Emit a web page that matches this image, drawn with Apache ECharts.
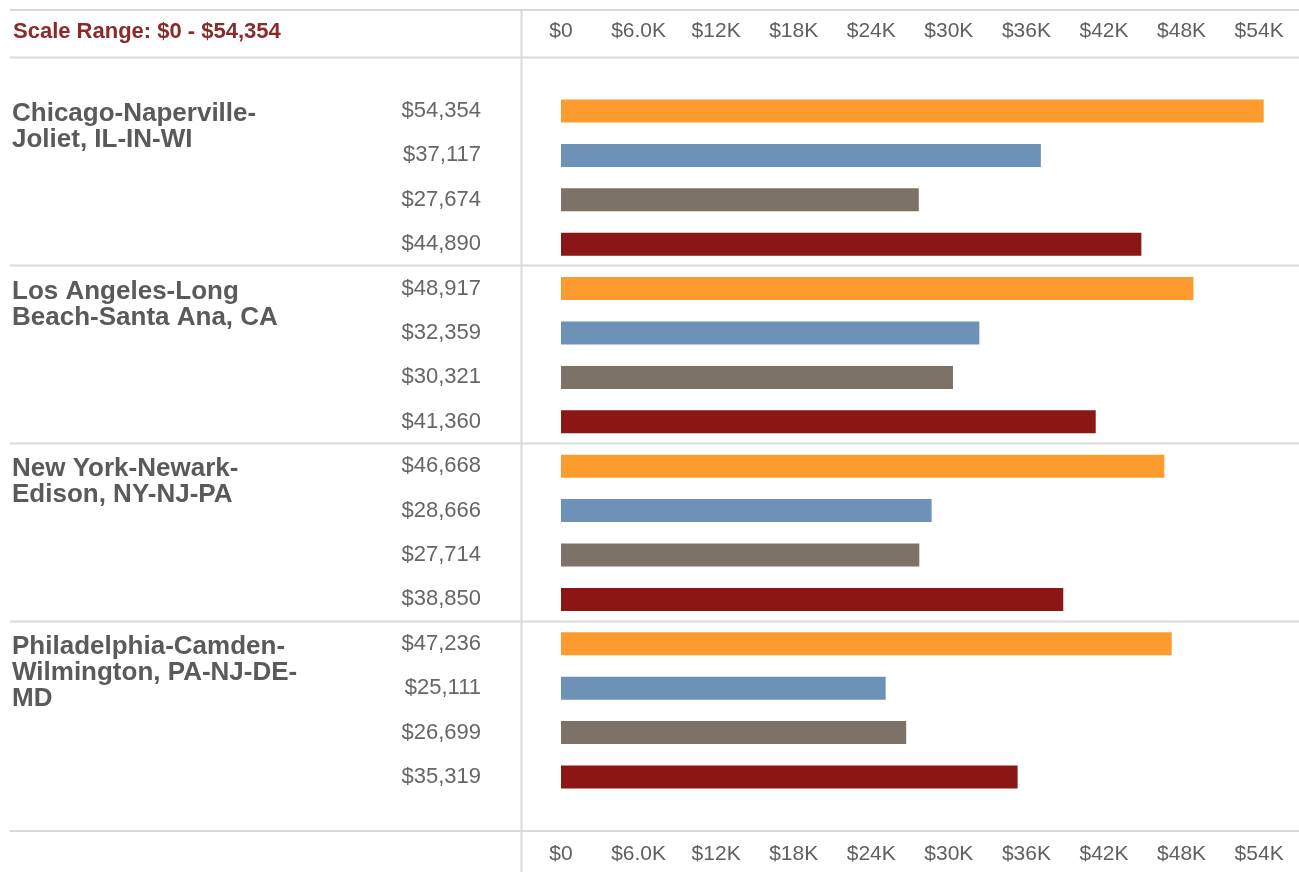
<!DOCTYPE html>
<html><head><meta charset="utf-8">
<script src="https://cdn.jsdelivr.net/npm/echarts@6/dist/echarts.min.js"></script>
<style>html,body{margin:0;padding:0;background:#fff;}#c{width:1299px;height:872px;}</style>
</head><body><div id="c"></div>
<script>
// ---- data ----
const metros = [
  'Chicago-Naperville-Joliet, IL-IN-WI',
  'Los Angeles-Long Beach-Santa Ana, CA',
  'New York-Newark-Edison, NY-NJ-PA',
  'Philadelphia-Camden-Wilmington, PA-NJ-DE-MD'
];
const metroLabelLines = [
  ['Chicago-Naperville-', 'Joliet, IL-IN-WI'],
  ['Los Angeles-Long', 'Beach-Santa Ana, CA'],
  ['New York-Newark-', 'Edison, NY-NJ-PA'],
  ['Philadelphia-Camden-', 'Wilmington, PA-NJ-DE-', 'MD']
];
const chicagoValues = [54354, 37117, 27674, 44890];
const losAngelesValues = [48917, 32359, 30321, 41360];
const newYorkValues = [46668, 28666, 27714, 38850];
const philadelphiaValues = [47236, 25111, 26699, 35319];
const tickValues = [0, 6000, 12000, 18000, 24000, 30000, 36000, 42000, 48000, 54000];
const tickLabels = ['$0', '$6.0K', '$12K', '$18K', '$24K', '$30K', '$36K', '$42K', '$48K', '$54K'];

// ---- styles ----
const barColors = ['#fd9b2e', '#6e92b7', '#7c7266', '#8a1616'];
const FONT = '"Liberation Sans", Arial, sans-serif';
const LINE = '#d9d9d9';

const groups = [chicagoValues, losAngelesValues, newYorkValues, philadelphiaValues];
const rowKeys = [], rowData = [], rowLabels = [];
groups.forEach((g, gi) => g.forEach((v, mi) => {
  rowKeys.push(metros[gi] + '|' + mi);
  rowData.push({ value: v, itemStyle: { color: barColors[mi] } });
  rowLabels.push('$' + v.toLocaleString('en-US'));
}));
const allValues = groups.flat();
const maxVal = Math.max(...allValues);

const tickFmt = (val) => { const i = tickValues.indexOf(val); return i >= 0 ? tickLabels[i] : ''; };
const xCommon = {
  type: 'value', min: 0, max: 56000, interval: 6000,
  axisLine: { show: false }, axisTick: { show: false }, splitLine: { show: false }
};

const chart = echarts.init(document.getElementById('c'));
const option = {
  animation: false,
  backgroundColor: '#fff',
  grid: { left: 561, right: 14, top: 88.8, bottom: 72.8, containLabel: false },
  xAxis: [
    Object.assign({}, xCommon, { position: 'top', axisLabel: { formatter: tickFmt, showMaxLabel: false, margin: 57.3, verticalAlign: 'middle', color: '#5f5f5f', fontSize: 21, fontFamily: FONT } }),
    Object.assign({}, xCommon, { position: 'bottom', axisLabel: { formatter: tickFmt, showMaxLabel: false, margin: 54.8, verticalAlign: 'middle', color: '#5f5f5f', fontSize: 21, fontFamily: FONT } })
  ],
  yAxis: {
    type: 'category', inverse: true, data: rowKeys,
    axisLine: { show: false }, axisTick: { show: false }, splitLine: { show: false },
    axisLabel: { formatter: (v, i) => rowLabels[i], margin: 80, color: '#666', fontSize: 22, fontFamily: FONT, align: 'right' }
  },
  series: [{
    type: 'bar', xAxisIndex: 0, yAxisIndex: 0, barWidth: 23,
    data: rowData
  }]
};
chart.setOption(option);

// decorative frame lines and labels placed from the axis scale
const cy = (i) => chart.convertToPixel({ yAxisIndex: 0 }, i);
const graphics = [];
const hLine = (y) => graphics.push({ type: 'line', silent: true, shape: { x1: 10, y1: y, x2: 1299, y2: y }, style: { stroke: LINE, lineWidth: 2 } });
hLine(10);
hLine(57.5);
for (let g = 1; g < groups.length; g++) {
  const y = Math.round((cy(g * 4 - 1) + cy(g * 4)) / 2) - 0.5;
  hLine(y);
}
hLine(831);
graphics.push({ type: 'line', silent: true, shape: { x1: 521.5, y1: 10, x2: 521.5, y2: 872 }, style: { stroke: LINE, lineWidth: 2 } });
graphics.push({ type: 'text', silent: true, x: 13, y: 32, style: { text: 'Scale Range: $0 - $' + maxVal.toLocaleString('en-US'), fill: '#8b2a2a', fontSize: 22, fontWeight: 'bold', fontFamily: FONT, verticalAlign: 'middle' } });
metroLabelLines.forEach((lines, gi) => {
  const y = cy(gi * 4) + 3 - 13;
  graphics.push({ type: 'text', silent: true, x: 12, y: y, style: { text: lines.join('\n'), fill: '#5a5a5a', fontSize: 26, fontWeight: 'bold', fontFamily: FONT, lineHeight: 26, verticalAlign: 'top' } });
});
chart.setOption({ graphic: graphics });
</script>
</body></html>
